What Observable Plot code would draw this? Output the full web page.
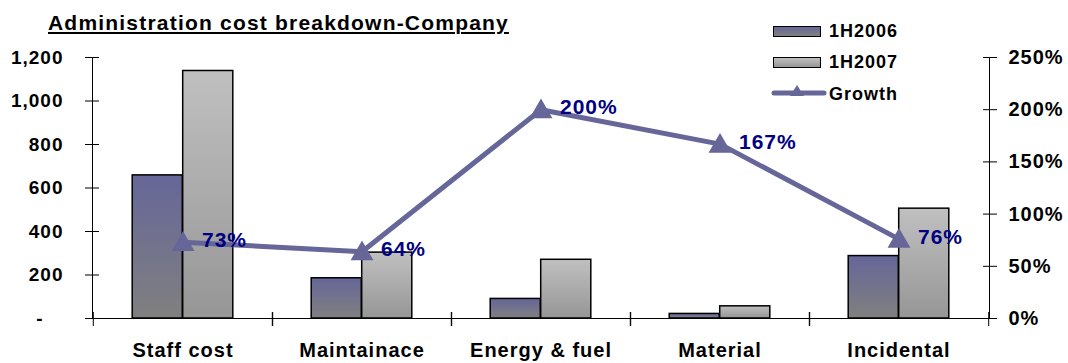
<!DOCTYPE html>
<html>
<head>
<meta charset="utf-8">
<script src="https://cdn.jsdelivr.net/npm/d3@7"></script>
<script src="https://cdn.jsdelivr.net/npm/@observablehq/plot@0.6"></script>
<style>
  html, body { margin: 0; padding: 0; background: #fff; }
  #wrap { position: relative; width: 1068px; height: 363px; overflow: hidden;
          font-family: "Liberation Sans", Arial, sans-serif; font-weight: bold; color: #000; }
  #chart { position: absolute; left: 0; top: 0; }
  .title { position: absolute; left: 48px; top: 12px; font-size: 21px; line-height: 21px;
           letter-spacing: 1.2px; text-decoration: underline; text-underline-offset: 2px;
           text-decoration-thickness: 1.5px; white-space: nowrap; }
  .lg { position: absolute; font-size: 18px; line-height: 18px; letter-spacing: 1px; white-space: nowrap; }
  .sw { position: absolute; width: 46px; height: 9px; border: 1.5px solid #000; }
</style>
</head>
<body>
<div id="wrap">
  <div id="chart"></div>
  <div class="title">Administration cost breakdown-Company</div>
  <div class="sw" style="left:773px; top:26px; background:linear-gradient(#666699,#808080);"></div>
  <div class="lg" style="left:829px; top:22px;">1H2006</div>
  <div class="sw" style="left:773px; top:57px; background:linear-gradient(#c0c0c0,#969696);"></div>
  <div class="lg" style="left:829px; top:53px;">1H2007</div>
  <svg style="position:absolute; left:770px; top:83px;" width="58" height="20">
    <line x1="4" y1="10" x2="54" y2="10" stroke="#666699" stroke-width="5" stroke-linecap="round"/>
    <path d="M27,2 L34,13 L20,13 Z" fill="#666699"/>
  </svg>
  <div class="lg" style="left:829px; top:85px;">Growth</div>
</div>
<script>
// Administration cost by category, first halves of 2006 and 2007
const categories = ["Staff cost", "Maintainace", "Energy & fuel", "Material", "Incidental"];
const cost2006 = [658, 185, 90, 21, 287];
const cost2007 = [1138, 303, 270, 56, 505];
const growth = [0.73, 0.64, 2.00, 1.67, 0.76];

// Axis ticks
const costTicks = [0, 200, 400, 600, 800, 1000, 1200];
const growthTicks = [0, 0.5, 1, 1.5, 2, 2.5];

const costMax = 1200;
const growthMax = 2.5;
const k = costMax / growthMax; // growth plotted on the cost scale, right axis relabels it

const rows = categories.map((c, i) => ({
  cat: c, v2006: cost2006[i], v2007: cost2007[i], growth: growth[i]
}));

const width = 1068, height = 363;
const ml = 92, mr = 79, mt = 57, mb = 45;
const step = (width - ml - mr) / categories.length;
const barW = 50.5;
const outer = (step - 2 * barW) / 2;

const defs = () => {
  const d = d3.create("svg:defs");
  const g1 = d.append("linearGradient").attr("id", "g2006").attr("x1", 0).attr("y1", 0).attr("x2", 0).attr("y2", 1);
  g1.append("stop").attr("offset", "0%").attr("stop-color", "#666699");
  g1.append("stop").attr("offset", "100%").attr("stop-color", "#808080");
  const g2 = d.append("linearGradient").attr("id", "g2007").attr("x1", 0).attr("y1", 0).attr("x2", 0).attr("y2", 1);
  g2.append("stop").attr("offset", "0%").attr("stop-color", "#c0c0c0");
  g2.append("stop").attr("offset", "100%").attr("stop-color", "#969696");
  return d.node();
};

const chart = Plot.plot({
  width, height,
  marginLeft: ml, marginRight: mr, marginTop: mt, marginBottom: mb,
  style: { fontFamily: "'Liberation Sans', Arial, sans-serif", fontWeight: "bold", background: "transparent", overflow: "visible", letterSpacing: "1px" },
  x: { type: "band", domain: categories, padding: 0, axis: null },
  y: { domain: [0, costMax], axis: null },
  marks: [
    defs,
    Plot.barY(rows, { x: "cat", y: "v2006", fill: "url(#g2006)", stroke: "#000", strokeWidth: 1.5,
                      insetLeft: outer, insetRight: step - outer - barW }),
    Plot.barY(rows, { x: "cat", y: "v2007", fill: "url(#g2007)", stroke: "#000", strokeWidth: 1.5,
                      insetLeft: outer + barW, insetRight: outer }),
    Plot.frame({ anchor: "left", stroke: "#000" }),
    Plot.frame({ anchor: "right", stroke: "#000" }),
    Plot.frame({ anchor: "bottom", stroke: "#000" }),
    // left axis: cost
    Plot.axisY({ anchor: "left", ticks: costTicks, tickSize: 14, dx: 7, fill: "none", stroke: "#000", label: null }),
    Plot.axisY({ anchor: "left", ticks: costTicks, tickSize: 0, tickPadding: 29, fontSize: 19, label: null,
                 fill: "#000", tickFormat: d => d === 0 ? "-\u2003" : d3.format(",")(d) }),
    // right axis: growth
    Plot.axisY({ anchor: "right", ticks: growthTicks.map(g => g * k), tickSize: 14, dx: -7, fill: "none", stroke: "#000", label: null }),
    Plot.axisY({ anchor: "right", ticks: growthTicks.map(g => g * k), tickSize: 0, tickPadding: 19, fontSize: 20, label: null,
                 fill: "#000", tickFormat: d => Math.round(d / k * 100) + "%" }),
    // category boundaries and labels
    Plot.axisX({ anchor: "bottom", tickSize: 14, dx: -step / 2, dy: -6, fill: "none", stroke: "#000", label: null }),
    Plot.axisX({ anchor: "bottom", tickSize: 14, dx: step / 2, dy: -6, fill: "none", stroke: "#000", label: null }),
    Plot.axisX({ anchor: "bottom", tickSize: 0, tickPadding: 24, fontSize: 20, fill: "#000", label: null }),
    // growth line
    Plot.line(rows, { x: "cat", y: d => d.growth * k, stroke: "#666699", strokeWidth: 5 }),
    Plot.dot(rows, { x: "cat", y: d => d.growth * k, symbol: "triangle", r: 8.5, fill: "#666699", stroke: "none", dy: 2 }),
    Plot.text(rows, { x: "cat", y: d => d.growth * k, text: d => Math.round(d.growth * 100) + "%",
                      dx: 19, dy: -2, textAnchor: "start", fill: "#000080", fontSize: 21, fontWeight: "bold" })
  ]
});

document.getElementById("chart").appendChild(chart);
</script>
</body>
</html>
